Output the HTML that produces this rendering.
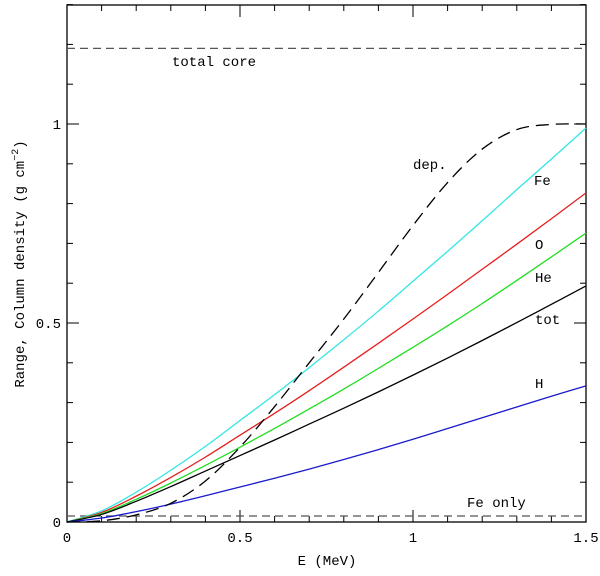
<!DOCTYPE html>
<html><head><meta charset="utf-8"><style>
body{margin:0;background:#fff}
svg text{font-family:"Liberation Mono",monospace;font-size:14px;fill:#000}
</style></head><body>
<svg id="chart" width="600" height="571" xmlns="http://www.w3.org/2000/svg">
<g id="axes"></g>
<g id="series"></g>
<text transform="translate(24,264) rotate(-90)" text-anchor="middle">Range, Column density (g cm<tspan dy="-6" font-size="10">−2</tspan><tspan dy="6">)</tspan></text>
<text x="327" y="565" text-anchor="middle">E (MeV)</text>
</svg>
<script>
const xs=[0,0.1,0.2,0.3,0.4,0.5,0.6,0.7,0.8,0.9,1.0,1.1,1.2,1.3,1.4,1.5];
const feVals=[0,0.028,0.075,0.13,0.19,0.255,0.32,0.388,0.458,0.53,0.605,0.68,0.757,0.835,0.912,0.99];
const oVals=[0,0.024,0.065,0.112,0.163,0.218,0.273,0.33,0.389,0.449,0.51,0.572,0.635,0.698,0.762,0.827];
const heVals=[0,0.021,0.057,0.098,0.142,0.188,0.235,0.284,0.334,0.386,0.439,0.493,0.549,0.607,0.666,0.726];
const totVals=[0,0.019,0.052,0.089,0.128,0.167,0.206,0.246,0.286,0.327,0.369,0.412,0.456,0.501,0.547,0.593];
const hVals=[0,0.01,0.026,0.045,0.066,0.088,0.11,0.133,0.157,0.182,0.208,0.235,0.262,0.289,0.316,0.342];
const depVals=[0,0.003,0.018,0.047,0.103,0.188,0.29,0.4,0.51,0.627,0.745,0.853,0.937,0.986,0.999,1.0];
const totalCore=1.19, feOnly=0.015;
const xTickLabels=["0","0.5","1","1.5"], xTickVals=[0,0.5,1,1.5];
const yTickLabels=["0","0.5","1"], yTickVals=[0,0.5,1];
const X0=67,X1=586,Y0=522,YT=5;
const sx=v=>X0+v*(X1-X0)/1.5, sy=v=>Y0-v*398;
const NS="http://www.w3.org/2000/svg";
function mk(t,a,p){const e=document.createElementNS(NS,t);for(const k in a)e.setAttribute(k,a[k]);p.appendChild(e);return e;}
const ax=document.getElementById('axes'), sr=document.getElementById('series');
const fr=mk('rect',{x:X0,y:YT,width:X1-X0,height:Y0-YT,fill:'none',stroke:'#000','stroke-width':1.3},ax);


for(let i=0;i<=15;i++){const v=i/10,x=sx(v),L=(i%5==0)?12:6;
 const t1=mk('line',{x1:x,x2:x,y1:Y0,y2:Y0-L,stroke:'#000'},ax);
 
 
 const t2=mk('line',{x1:x,x2:x,y1:YT,y2:YT+L,stroke:'#000'},ax);
 
 }
for(let i=0;i<=13;i++){const v=i/10,y=sy(v),L=(i%5==0)?12:6;
 const t1=mk('line',{x1:X0,x2:X0+L,y1:y,y2:y,stroke:'#000'},ax);
 
 
 const t2=mk('line',{x1:X1,x2:X1-L,y1:y,y2:y,stroke:'#000'},ax);
 
 }
xTickLabels.forEach((s,i)=>{const t=mk('text',{x:sx(xTickVals[i]),y:Y0+20,'text-anchor':'middle'},ax);t.textContent=s;
 
 });
yTickLabels.forEach((s,i)=>{const t=mk('text',{x:X0-6,y:sy(yTickVals[i])+5,'text-anchor':'end'},ax);t.textContent=s;
 
 });
[[totalCore,'total-core-line'],[feOnly,'fe-only-line']].forEach(([v,n])=>{
 const l=mk('line',{x1:X0,x2:X1,y1:sy(v),y2:sy(v),stroke:'#555','stroke-width':1.3,'stroke-dasharray':'8 5'},sr);
 
 });
function path(vals){const p=xs.map((x,i)=>[sx(x),sy(vals[i])]);let d='M'+p[0][0]+','+p[0][1];
 for(let i=0;i<p.length-1;i++){const a=p[Math.max(0,i-1)],b=p[i],c=p[i+1],e=p[Math.min(p.length-1,i+2)];
  d+=' C'+(b[0]+(c[0]-a[0])/6)+','+(b[1]+(c[1]-a[1])/6)+' '+(c[0]-(e[0]-b[0])/6)+','+(c[1]-(e[1]-b[1])/6)+' '+c[0]+','+c[1];}return d;}
const defs=[[feVals,'#33e6e6','fe-curve',''],[oVals,'#e61e1e','o-curve',''],[heVals,'#22dd22','he-curve',''],[totVals,'#000','tot-curve',''],[hVals,'#1a1acc','h-curve',''],[depVals,'#000','dep-curve','13 7']];
defs.forEach(([v,c,n,da])=>{const e=mk('path',{d:path(v),fill:'none',stroke:c,'stroke-width':1.3},sr);
 if(da)e.setAttribute('stroke-dasharray',da);
 
 });
[['total core',172,66,'total-core-label'],['Fe only',467,507,'fe-only-label'],['dep.',413,169,'dep-label'],['Fe',534,185,'fe-label'],['O',535,249,'o-label'],['He',535,282,'he-label'],['tot',535,324,'tot-label'],['H',535,388,'h-label']].forEach(([s,x,y,n])=>{
 const t=mk('text',{x:x,y:y},sr);t.textContent=s;
 
 });
</script>
</body></html>
